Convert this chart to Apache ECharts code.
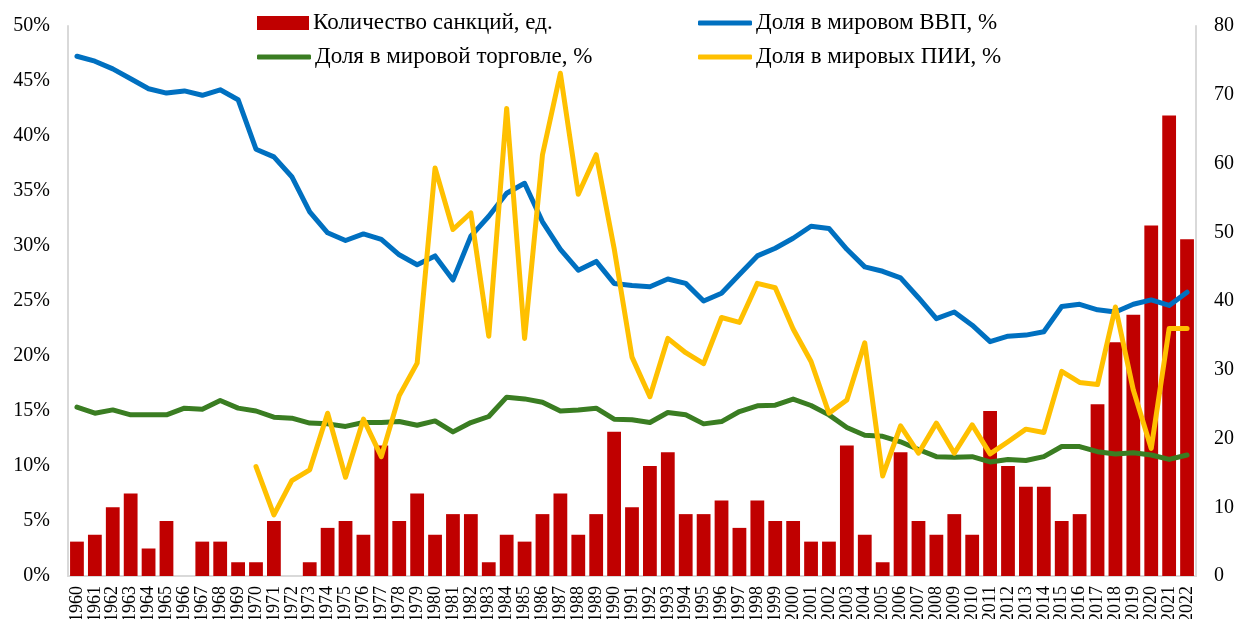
<!DOCTYPE html>
<html>
<head>
<meta charset="utf-8">
<script src="https://cdn.jsdelivr.net/npm/echarts@6/dist/echarts.min.js"></script>
<style>html,body{margin:0;padding:0;background:#fff}#c{width:1237px;height:619px}</style>
</head>
<body>
<div id="c"></div>
<script>
const years = [];
for (let y = 1960; y <= 2022; y++) years.push(String(y));

const sanctions = [5,6,10,12,4,8,0,5,5,2,2,8,0,2,7,8,6,19,8,12,
  6,9,9,2,6,5,9,12,6,9,21,10,16,18,9,9,11,7,11,8,8,5,
  5,19,6,2,18,8,6,9,6,24,16,13,13,8,9,25,34,38,51,67,49];

const gdpShare = [47.25,46.8,46.1,45.2,44.3,43.9,44.1,43.7,44.2,43.3,38.8,38.1,36.3,33.1,31.2,30.5,31.1,30.6,29.2,28.3,
  29.1,26.9,30.9,32.7,34.8,35.7,32.2,29.7,27.8,28.6,26.6,26.4,26.3,27.0,26.6,25.0,25.7,27.4,29.1,29.8,30.7,31.8,
  31.6,29.7,28.1,27.7,27.1,25.3,23.4,24.0,22.8,21.3,21.8,21.9,22.2,24.5,24.7,24.2,24.0,24.7,25.1,24.6,25.8];

const tradeShare = [15.35,14.8,15.1,14.65,14.65,14.65,15.26,15.17,15.95,15.26,15.0,14.44,14.35,13.9,13.83,13.6,13.95,13.95,14.04,13.7,
  14.1,13.1,13.95,14.5,16.26,16.1,15.8,15.0,15.1,15.26,14.26,14.2,13.95,14.86,14.65,13.83,14.04,14.95,15.47,15.53,16.08,15.5,
  14.65,13.5,12.8,12.7,12.2,11.5,10.85,10.8,10.85,10.37,10.6,10.5,10.85,11.77,11.77,11.3,11.1,11.2,11.0,10.6,11.0];

const fdiShare = [null,null,null,null,null,null,null,null,null,null,9.95,5.55,8.67,9.65,14.8,8.98,14.26,10.85,16.4,19.35,
  37.1,31.5,33.0,21.8,42.5,21.6,38.3,45.7,34.7,38.3,29.8,19.9,16.3,21.6,20.3,19.3,23.5,23.05,26.6,26.2,22.45,19.5,
  14.8,16.0,21.2,9.1,13.65,11.16,13.9,11.16,13.74,11.1,12.2,13.35,13.04,18.6,17.6,17.4,24.45,16.9,11.6,22.5,22.5];

const names = ['Количество санкций, ед.','Доля в мировом ВВП, %','Доля в мировой торговле, %','Доля в мировых ПИИ, %'];
const colors = {bar:'#C00000', gdp:'#0070C0', trade:'#3A7D22', fdi:'#FFC000'};

const font = 'Liberation Serif, Times New Roman, serif';
const legendBase = {itemGap: 0, padding:0,
  textStyle:{fontFamily:font,fontSize:23,lineHeight:24,color:'#000',padding:[0,0,0,-1]}};

const chart = echarts.init(document.getElementById('c'), null, {renderer:'canvas'});
chart.setOption({
  animation:false,
  backgroundColor:'#fff',
  legend:[
    Object.assign({}, legendBase, {left:257, top:11, itemWidth:52, itemHeight:14, data:[{name:names[0], icon:'rect'}]}),
    Object.assign({}, legendBase, {left:698, top:11, itemWidth:54, itemHeight:5, data:[{name:names[1], icon:'roundRect'}]}),
    Object.assign({}, legendBase, {left:257, top:45, itemWidth:54, itemHeight:5, data:[{name:names[2], icon:'roundRect'}]}),
    Object.assign({}, legendBase, {left:698, top:45, itemWidth:54, itemHeight:5, data:[{name:names[3], icon:'roundRect'}]})
  ],
  grid:{left:68, right:41, top:26, bottom:43, containLabel:false, outerBoundsMode:'none'},
  xAxis:{
    type:'category', data:years, boundaryGap:true,
    axisLine:{lineStyle:{color:'#d9d9d9', width:2}},
    axisTick:{show:false},
    axisLabel:{rotate:90, interval:0, fontFamily:font, fontSize:18, color:'#000', margin:10, hideOverlap:false}
  },
  yAxis:[
    {type:'value', min:0, max:50, interval:5,
     axisLine:{show:true, lineStyle:{color:'#d9d9d9', width:2}}, axisTick:{show:false}, splitLine:{show:false},
     axisLabel:{formatter:'{value}%', fontFamily:font, fontSize:20, color:'#000', margin:18}},
    {type:'value', min:0, max:80, interval:10, position:'right',
     axisLine:{show:true, lineStyle:{color:'#d9d9d9', width:2}}, axisTick:{show:false}, splitLine:{show:false},
     axisLabel:{fontFamily:font, fontSize:20, color:'#000', margin:18}}
  ],
  series:[
    {name:names[0], type:'bar', yAxisIndex:1, data:sanctions, barCategoryGap:'23%', itemStyle:{color:colors.bar}},
    {name:names[2], type:'line', yAxisIndex:0, data:tradeShare, showSymbol:false, symbol:'none',
     lineStyle:{color:colors.trade, width:5, cap:'round', join:'round'}, itemStyle:{color:colors.trade}},
    {name:names[1], type:'line', yAxisIndex:0, data:gdpShare, showSymbol:false, symbol:'none',
     lineStyle:{color:colors.gdp, width:5, cap:'round', join:'round'}, itemStyle:{color:colors.gdp}},
    {name:names[3], type:'line', yAxisIndex:0, data:fdiShare, showSymbol:false, symbol:'none', connectNulls:false,
     lineStyle:{color:colors.fdi, width:5, cap:'round', join:'round'}, itemStyle:{color:colors.fdi}}
  ]
});
</script>
</body>
</html>
